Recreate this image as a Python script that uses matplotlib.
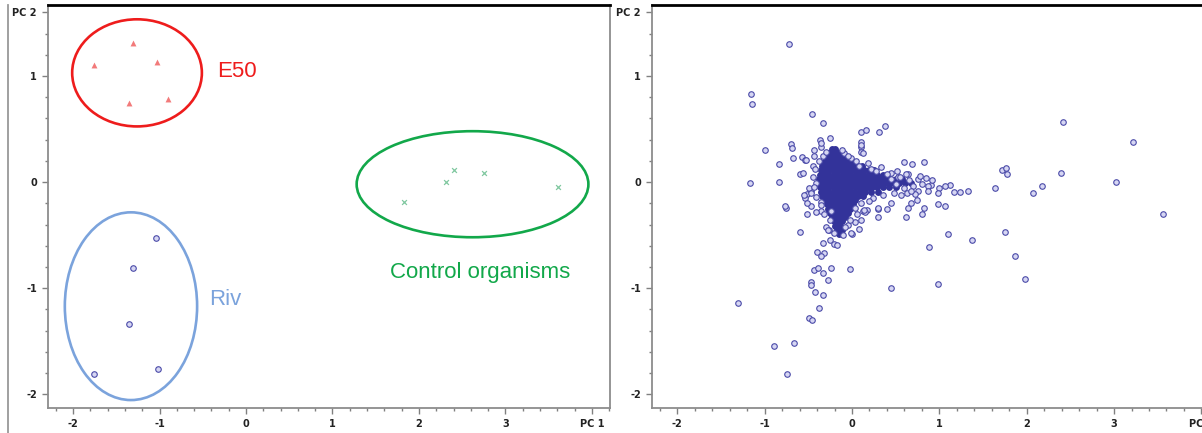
import matplotlib

matplotlib.use("Agg")
import matplotlib.pyplot as plt
from matplotlib.lines import Line2D
from matplotlib.patches import Ellipse
from matplotlib.ticker import MultipleLocator

plt.rcParams["axes.unicode_minus"] = False

# left panel: sample scores (PC1, PC2)
E50_X = [-1.31, -1.76, -1.03, -1.35, -0.90]
E50_Y = [1.31, 1.10, 1.13, 0.75, 0.78]
RIV_X = [-1.04, -1.31, -1.35, -1.76, -1.02]
RIV_Y = [-0.53, -0.81, -1.34, -1.81, -1.76]
CTRL_X = [2.40, 2.75, 2.31, 1.83, 3.61]
CTRL_Y = [0.11, 0.09, 0.00, -0.19, -0.05]

# group outlines: (centre x, centre y, width, height)
GROUPS = [
    ("E50", (-1.26, 1.03, 1.50, 1.01), "#ee1c1c", (-0.33, 1.04)),
    ("Riv", (-1.33, -1.17, 1.53, 1.77), "#7ba3dc", (-0.43, -1.11)),
    ("Control organisms", (2.62, -0.02, 2.68, 1.00), "#12a84a", (1.66, -0.85)),
]

# right panel: loadings, scattered outliers
OUT_X = [-0.72, -1.16, -1.14, -0.46, -0.33, -1.00, -0.70, -0.69, -0.68, -0.83,
         -1.17, -0.84, -0.59, -0.57, -0.54, -0.37, -0.25, -0.36, 0.10, 0.16,
         0.31, 0.38, 0.10, 0.10, 0.10, -0.43, -0.45, -0.76, -0.51, -0.54,
         -0.47, -0.35, -0.24, 0.13, 0.17, 0.30, 0.40, 0.30, -0.77, -0.51,
         -0.60, -0.33, -0.25, -0.21, -0.17, -0.40, -0.32, -0.35, -0.44, -0.39,
         -0.33, -0.24, -0.02, -0.47, -0.47, -0.28, -0.42, -0.33, 0.45, -1.31,
         -0.38, -0.49, -0.46, -0.66, -0.89, -0.74, 0.00, 0.08, 0.03, -0.05,
         0.15, -0.26, 2.41, 3.22, 0.59, 0.69, 0.83, 0.64, 1.72, 1.76,
         1.77, 2.39, 3.02, 3.56, 1.64, 2.07, 2.18, 1.33, 1.24, 1.17,
         1.12, 1.07, 1.00, 0.91, 0.99, 0.98, 1.07, 0.83, 0.80, 0.62,
         0.64, 1.10, 0.88, 1.37, 1.75, 1.87, 1.98, 0.99, 0.74, 0.67,
         0.87, 0.76, 0.87, -0.55, -0.49, -0.47]
OUT_Y = [1.30, 0.83, 0.74, 0.64, 0.56, 0.30, 0.36, 0.32, 0.23, 0.17,
         -0.01, 0.00, 0.08, 0.24, 0.21, 0.40, 0.42, 0.33, 0.47, 0.49,
         0.47, 0.53, 0.38, 0.33, 0.28, 0.25, 0.15, -0.24, -0.11, -0.15,
         -0.08, -0.27, -0.27, -0.27, -0.26, -0.25, -0.25, -0.33, -0.23, -0.30,
         -0.47, -0.57, -0.55, -0.58, -0.59, -0.66, -0.67, -0.70, -0.83, -0.81,
         -0.86, -0.81, -0.82, -0.94, -0.97, -0.92, -1.04, -1.06, -1.00, -1.14,
         -1.19, -1.28, -1.30, -1.52, -1.55, -1.81, -0.49, -0.44, -0.38, -0.40,
         -0.28, -0.45, 0.57, 0.38, 0.19, 0.17, 0.19, 0.08, 0.11, 0.13,
         0.08, 0.09, 0.00, -0.30, -0.06, -0.10, -0.04, -0.08, -0.09, -0.09,
         -0.03, -0.04, -0.06, -0.03, -0.10, -0.21, -0.23, -0.24, -0.30, -0.33,
         -0.24, -0.49, -0.61, -0.55, -0.47, -0.70, -0.91, -0.96, -0.17, -0.20,
         -0.04, -0.08, -0.08, -0.12, -0.06, -0.23]

# right panel: points around the dense core
HALO_X = [-0.53, -0.56, -0.44, -0.36, -0.33, -0.09, -0.01, 0.10, 0.13, 0.18,
          0.33, 0.45, 0.53, 0.45, 0.30, 0.14, 0.24, 0.03, -0.47, -0.51,
          -0.41, -0.36, -0.30, -0.21, -0.01, 0.10, -0.41, -0.45, 0.45, 0.50,
          0.55, 0.60, 0.65, 0.70, 0.75, 0.80, 0.85, 0.48, 0.56, 0.63,
          0.72, 0.40, 0.52, -0.42, -0.43, -0.41, -0.38, -0.30, -0.12, -0.05,
          0.05, 0.08, 0.22, 0.28, 0.35, 0.20, 0.10, 0.06, -0.02, -0.08,
          -0.25, -0.32, -0.36, -0.27, -0.10, 0.62, 0.68, 0.78, 0.92]
HALO_Y = [0.21, 0.09, 0.30, 0.37, 0.25, 0.27, 0.23, 0.35, 0.27, 0.18,
          0.14, 0.09, 0.05, -0.20, -0.24, -0.26, -0.15, -0.24, -0.10, -0.20,
          -0.28, -0.19, -0.42, -0.48, -0.48, -0.36, -0.01, 0.05, 0.03, -0.02,
          0.05, -0.06, 0.02, -0.04, 0.03, -0.02, 0.04, -0.10, -0.12, -0.10,
          -0.11, 0.08, 0.10, 0.12, -0.05, -0.14, 0.20, 0.28, 0.30, 0.25,
          0.20, 0.15, 0.12, 0.10, -0.12, -0.18, -0.20, -0.30, -0.36, -0.42,
          -0.36, -0.30, -0.22, -0.45, -0.50, 0.08, -0.08, 0.06, 0.02]

# right panel: dense core, row by row (PC2 value -> PC1 values)
CORE_ROWS = {
    0.31: [-0.23, -0.19],
    0.27: [-0.26, -0.21, -0.16, -0.12],
    0.23: [-0.29, -0.24, -0.19, -0.14, -0.09],
    0.19: [-0.32, -0.27, -0.22, -0.17, -0.12, -0.07, -0.02, 0.03],
    0.15: [-0.34, -0.29, -0.24, -0.19, -0.14, -0.09, -0.04, 0.01, 0.06, 0.11],
    0.11: [-0.36, -0.31, -0.26, -0.21, -0.16, -0.11, -0.06, -0.01, 0.04, 0.09,
           0.14, 0.19, 0.25],
    0.07: [-0.37, -0.32, -0.27, -0.22, -0.17, -0.12, -0.07, -0.02, 0.03, 0.08,
           0.13, 0.18, 0.23, 0.29, 0.35, 0.41],
    0.03: [-0.38, -0.33, -0.28, -0.23, -0.18, -0.13, -0.08, -0.03, 0.02, 0.07,
           0.12, 0.17, 0.22, 0.27, 0.32, 0.38, 0.44, 0.50, 0.57],
    -0.01: [-0.38, -0.33, -0.28, -0.23, -0.18, -0.13, -0.08, -0.03, 0.02, 0.07,
            0.12, 0.17, 0.22, 0.27, 0.32, 0.37, 0.42, 0.48, 0.54, 0.61, 0.68],
    -0.05: [-0.37, -0.32, -0.27, -0.22, -0.17, -0.12, -0.07, -0.02, 0.03, 0.08,
            0.13, 0.18, 0.23, 0.29, 0.35, 0.42, 0.50],
    -0.09: [-0.36, -0.31, -0.26, -0.21, -0.16, -0.11, -0.06, -0.01, 0.04, 0.09,
            0.15, 0.22, 0.30],
    -0.13: [-0.34, -0.29, -0.24, -0.19, -0.14, -0.09, -0.04, 0.01, 0.07, 0.13],
    -0.17: [-0.31, -0.26, -0.21, -0.16, -0.11, -0.06, -0.01, 0.04],
    -0.21: [-0.29, -0.24, -0.19, -0.14, -0.09, -0.04, 0.01],
    -0.25: [-0.27, -0.22, -0.17, -0.12, -0.07, -0.02],
    -0.29: [-0.25, -0.20, -0.15, -0.10, -0.05],
    -0.33: [-0.23, -0.18, -0.13, -0.08],
    -0.37: [-0.21, -0.16, -0.11],
    -0.41: [-0.19, -0.14],
    -0.45: [-0.17, -0.12],
    -0.49: [-0.15],
}

X_TICKS = [-2, -1, 0, 1, 2, 3, 4]
X_LABELS = ["-2", "-1", "0", "1", "2", "3", "PC 1"]
Y_TICKS = [-2, -1, 0, 1, 1.6]
Y_LABELS = ["-2", "-1", "0", "1", "PC 2"]

DOT = dict(marker="o", s=16, facecolors="#d6d6f3", edgecolors="#4a4aa8",
           linewidths=0.8)
NAVY = "#33339a"


def style_axes(ax, xlim, right_spine):
    ax.set_xlim(*xlim)
    ax.set_ylim(-2.13, 1.67)
    ax.set_xticks(X_TICKS, X_LABELS)
    ax.set_yticks(Y_TICKS, Y_LABELS)
    ax.xaxis.set_minor_locator(MultipleLocator(0.2))
    ax.yaxis.set_minor_locator(MultipleLocator(0.2))
    ax.tick_params(which="both", direction="out", color="#808080", width=1.0,
                   labelsize=7, labelcolor="#222222", pad=4)
    ax.tick_params(which="major", length=4)
    ax.tick_params(which="minor", length=2.5)
    for lab in ax.get_xticklabels() + ax.get_yticklabels():
        lab.set_fontweight("bold")
    for side in ("left", "bottom", "right"):
        ax.spines[side].set_color("#8c8c8c")
        ax.spines[side].set_linewidth(1.3)
    ax.spines["right"].set_visible(right_spine)
    ax.spines["top"].set_color("black")
    ax.spines["top"].set_linewidth(2.0)


fig = plt.figure(figsize=(12.02, 4.33), dpi=100)
ax1 = fig.add_axes([0.0399, 0.0577, 0.4676, 0.9308])
ax2 = fig.add_axes([0.5424, 0.0577, 0.4600, 0.9308])

ax1.scatter(E50_X, E50_Y, marker="^", s=18, color="#f27a7a", linewidths=0)
ax1.scatter(RIV_X, RIV_Y, **DOT)
ax1.scatter(CTRL_X, CTRL_Y, marker="x", s=12, color="#80c8a0", linewidths=0.9)
for label, (cx, cy, w, h), color, (tx, ty) in GROUPS:
    ax1.add_patch(Ellipse((cx, cy), w, h, fill=False, edgecolor=color, lw=1.9))
    ax1.text(tx, ty, label, color=color, fontsize=16,
             family=["Liberation Sans", "DejaVu Sans"], ha="left", va="center")
style_axes(ax1, (-2.29, 4.21), True)

core_x = [x for y, xs in CORE_ROWS.items() for x in xs]
core_y = [y for y, xs in CORE_ROWS.items() for x in xs]
ax2.scatter(core_x, core_y, marker="o", s=17, facecolors=NAVY,
            edgecolors=NAVY, linewidths=0.8)
ax2.scatter(OUT_X + HALO_X, OUT_Y + HALO_Y, **DOT)
style_axes(ax2, (-2.29, 4.04), False)

# outer frame line on the far left
fig.add_artist(Line2D([0.0067, 0.0067], [0, 0.9885], transform=fig.transFigure,
                      color="#999999", lw=1.3))

fig.savefig("out.png", dpi=100)
